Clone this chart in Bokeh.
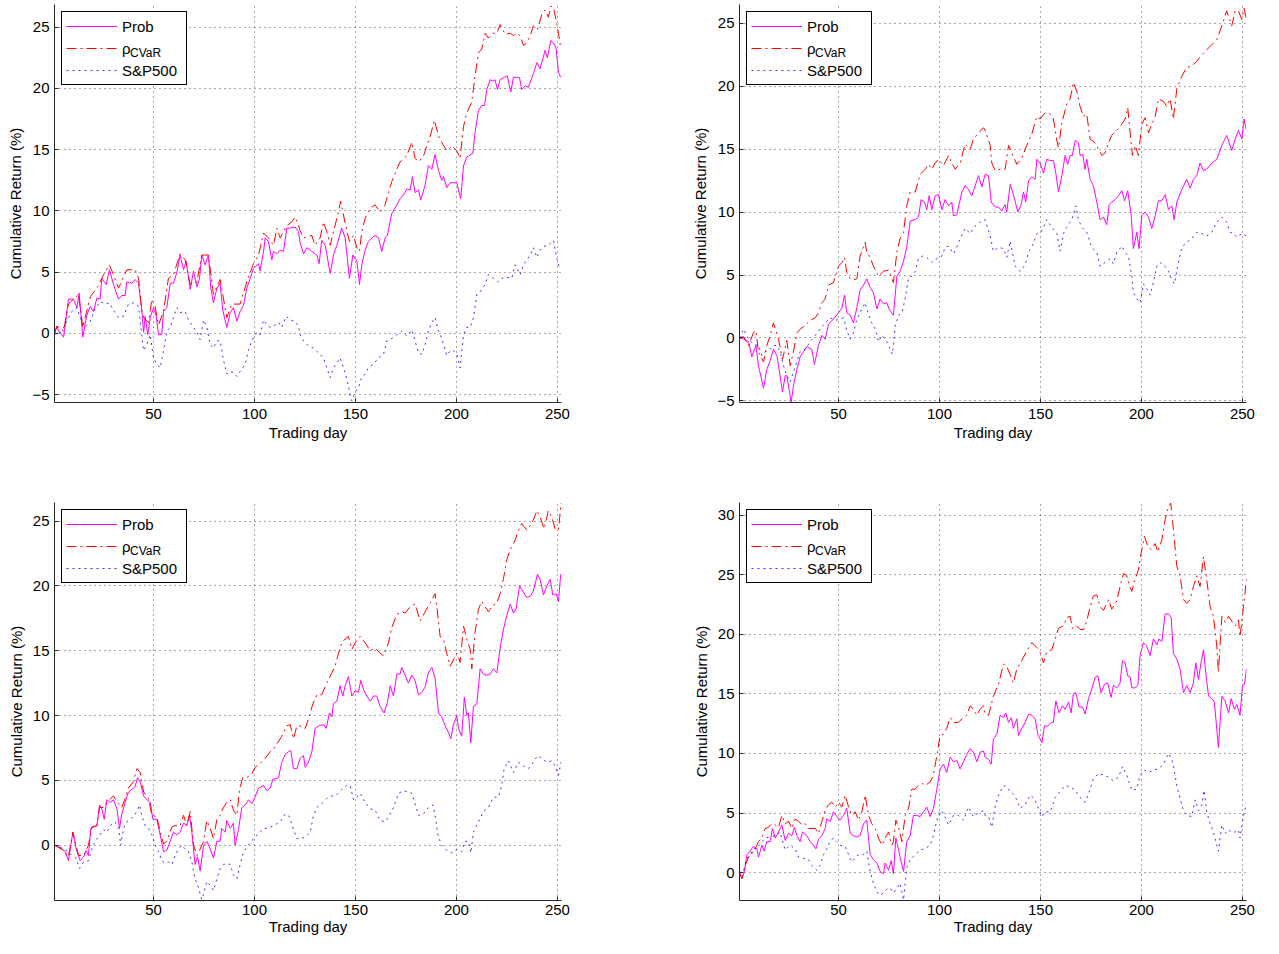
from bokeh.plotting import figure
from bokeh.models import Range1d, FixedTicker, Legend, LegendItem, Spacer
from bokeh.layouts import column, row
from bokeh.embed import file_html
from bokeh.resources import INLINE

FONT = "Liberation Sans"

X_TICKS = [50, 100, 150, 200, 250]

# ---------------- Panel 1 (top left) ----------------
P1_PROB = [(1,0),(2.2,0.6),(3,0.2),(4.6,-0.1),(5.5,-0.3),(7.9,2.8),(10.4,2.8),(12.1,2.1),(13.2,3.3),(15,-0.3),(17,1.5),(18.7,2.2),(20.3,1.8),(22,2.9),(23.6,2.8),(24.4,4.5),(26.6,4.0),(28.2,5.2),(30.2,4.0),(32.7,2.8),(34.3,3.1),(36,3.1),(36.8,4.2),(39.3,4.1),(40.9,4.4),(42.6,4.1),(44.2,1.9),(45.1,0.1),(45.9,1.4),(47.2,-0.1),(48.4,1.3),(50,2.1),(51.3,1.5),(52.5,-0.1),(54.1,-0.1),(55,1.8),(56.6,2.1),(58.3,4.1),(59.9,4.1),(61.6,5.0),(63.2,6.4),(64.9,5.2),(66.2,5.9),(68.2,3.6),(69.8,5.1),(71.5,3.8),(72.8,4.5),(73.9,6.4),(75.6,5.6),(77.2,6.4),(78.4,3.7),(79.7,2.5),(81.4,3.7),(83,4.1),(84.3,1.9),(86.3,0.5),(88,1.7),(89.6,2.1),(91.3,1.0),(92.9,1.8),(94.6,2.3),(96.2,3.7),(97.9,4.5),(99.5,5.3),(102,5.7),(102.8,5.1),(104.5,6.7),(105.3,7.8),(106.9,7.5),(108.6,6.0),(109.4,6.7),(111.1,6.5),(112.7,6.8),(114.4,6.7),(116,8.6),(117.7,8.6),(120.1,8.7),(121.8,8.3),
           (122.6,7.4),(124.3,6.5),(125.9,7.0),(128.4,6.7),(130.9,6.4),(132,5.7),(133.3,7.6),(135,7.2),(137.5,4.9),(139.1,6.4),(140.8,7.2),(143.2,8.6),(144.9,7.8),(147,4.5),(148.7,6.4),(150.7,5.9),(152,4.0),(153.1,5.6),(154.8,6.8),(156.4,7.5),(158.1,7.8),(159.7,8.0),(161.4,7.8),(163,6.7),(164.7,7.8),(165.8,8.0),(168,9.8),(170.5,10.5),(172.1,11.0),(173.8,11.3),(175.4,11.8),(177.1,11.7),(178.2,12.8),(179.5,11.5),(181.2,11.7),(182.3,10.9),(184.5,12.1),(186.1,13.7),(187.8,13.4),(189.4,14.6),(191.1,13.3),(192.7,12.5),(193.6,12.8),(195.2,11.9),(196.9,12.3),(198.5,12.3),(200.2,12.3),(201,11.7),(202.1,11.0),(203.5,13.7),(205.1,14.4),(208.1,14.7),(209.2,16.4),(210.9,18.2),(212.5,18.6),(213.9,18.6),(215,19.9),(216.7,20.7),(218,20.6),(219.1,20.7),(220.3,19.9),(221.6,20.7),(223.6,20.9),(225.2,21.0),(226.9,19.7),(228.2,20.9),(229.9,20.9),(231.2,20.9),(232.3,19.9),(234,20.2),(235.6,20.1),(238.1,21.2),(239.8,22.1),(241.4,21.6),(243.9,23.1),(245,22.5),(246.7,23.9),(248,23.7),(249.3,23.3),(250.5,21.3),(251.6,20.9)]
P1_CVAR = [(1,0),(2.2,0.6),(5.5,0.2),(7.9,2.4),(10.4,2.8),(12.9,3.2),(15,0.5),(18.7,3.0),(22,3.7),(25.3,4.8),(28.2,5.6),(30.2,4.8),(32.7,3.7),(36.8,5.2),(40.9,5.2),(42.6,4.5),(44.2,1.9),(45.1,1.3),(47.5,0.9),(49.2,2.8),(50.8,2.2),(52.5,0.7),(55,1.8),(57.4,4.5),(59.9,4.8),(63.2,6.5),(65.7,6.0),(68.2,4.0),(71.5,4.2),(73.9,6.4),(77.2,6.4),(79.7,3.2),(83,4.4),(86.3,1.3),(88.8,2.4),(92.9,2.4),(96.2,4.2),(99.5,5.7),(102,6.4),(104.5,8.2),(106.9,7.8),(109.4,7.2),(111.1,8.6),(112.7,7.8),(116,8.8),(118.5,9.1),(120.1,9.5),(121.8,8.8),
           (122.6,8.4),(124.3,7.8),(125.9,7.9),(128.4,8.0),(130,7.2),(132.5,7.8),(134.2,9.1),(135.8,8.3),(137.5,7.2),(139.1,8.3),(140.8,9.4),(142.7,10.8),(144.9,9.0),(147,7.5),(149,8.0),(150.7,7.0),(152,6.7),(153.1,8.3),(154.8,9.4),(157.3,10.2),(159.7,10.5),(162.2,9.9),(164.7,10.5),(166.3,11.5),(168,12.4),(170.5,13.4),(172.1,14.0),(175.4,14.5),(177.9,15.6),(179.5,14.3),(181.2,14.0),(183.7,14.5),(185.3,15.3),(187,16.1),(189.1,17.4),(191.1,16.1),(192.7,15.6),(195.2,14.9),(197.7,15.3),(200.2,14.9),(201.8,14.3),(203.5,16.9),(205.1,18.0),(207.6,18.9),(209.2,21.0),(210.9,22.9),(212.5,23.2),(214.2,24.5),(215.8,24.1),(218,24.5),(220,24.5),(221.6,25.2),(224.1,24.4),(226.6,24.5),(228.2,24.3),(229.9,24.5),(231.5,24.3),(233.2,23.5),(234.8,23.7),(236.5,24.3),(238.1,25.1),(240.1,24.8),(242.2,26.0),(243.9,26.4),(245.5,25.8),(246.7,26.7),(248,26.6),(249.3,25.6),(250.5,24.5),(251.6,23.3)]
P1_SP = [(1,0),(3,-0.1),(5.5,0.5),(7.1,1.0),(9.6,1.8),(12.1,2.1),(13.7,1.3),(16.2,0.5),(18.7,1.0),(21.1,2.0),(23.6,2.6),(26.1,2.4),(28.2,2.5),(30.2,1.9),(32.7,1.3),(35.2,1.4),(37.6,2.4),(40.1,2.5),(42.6,2.2),(44.2,-0.1),(45.1,-1.4),(46.7,-0.9),(48.4,-0.1),(50,-2.0),(51.7,-2.5),(53.3,-2.8),(55,-1.4),(56.6,0.2),(58.3,0.5),(59.9,1.3),(61.6,2.1),(63.2,1.7),(65.7,1.8),(67.3,1.1),(69.8,0.5),(71.5,0.1),(73.1,-0.5),(74.8,1.1),(76.4,0.5),(78.1,-0.9),(79.7,-1.2),(81.4,-0.6),(83,-0.6),(84.7,-2.2),(86.3,-3.3),(88,-3.1),(89.6,-3.2),(91.3,-3.5),(92.9,-3.1),(95.4,-2.5),(97,-1.4),(98.7,-0.6),(101.2,0.1),(102.8,-0.1),(104.5,1.1),(106.1,0.7),(107.8,0.5),(109.4,0.6),(111.9,0.9),(113.5,0.5),(115.7,1.4),(117.7,1.1),(120.1,1.0),(121.8,0.6),
         (122.6,-0.1),(124.3,-0.6),(126.7,-1.0),(129.2,-1.2),(132.5,-1.7),(134.2,-2.0),(135.8,-2.8),(137.5,-3.6),(139.1,-2.8),(140.8,-2.4),(142.4,-2.0),(144.1,-2.8),(145.7,-3.7),(146.5,-4.3),(147.4,-5.1),(148.2,-5.5),(149.8,-4.8),(151.5,-4.4),(153.1,-3.6),(154.8,-3.3),(156.4,-2.8),(158.9,-2.5),(161.4,-2.0),(163.9,-1.7),(165.5,-0.6),(168,-0.4),(170.5,-0.1),(172.9,0.2),(175.4,-0.2),(177.9,0.3),(179.5,-0.6),(181.2,-1.6),(182.8,-1.7),(184.5,-0.9),(186.1,0.2),(187.8,0.9),(189.4,1.3),(191.1,0.2),(192.7,-0.4),(195.2,-1.8),(196.9,-1.4),(198.5,-1.4),(200.2,-1.7),(201.8,-2.8),(203.5,-0.1),(205.1,0.5),(206.8,0.5),(208.4,1.3),(210.1,3.2),(211.7,3.4),(214.2,4.0),(215.8,4.8),(218.3,4.5),(220.8,4.2),(222.4,4.5),(224.9,4.6),(227.4,4.5),(229,5.6),(231.5,4.8),(233.2,5.6),(236.5,6.4),(238.1,7.0),(239.8,6.2),(241.4,6.8),(243.1,7.1),(245.5,7.2),(248,7.6),(249.7,6.1),(251,5.3)]

# ---------------- Panel 2 (top right) ----------------
P2_PROB = [(1,0),(3,-0.1),(5.5,-0.3),(7.1,-1.5),(9.1,-0.6),(10.4,-2.2),(12.9,-4.0),(14.5,-2.5),(16.2,-1.8),(17.8,-0.9),(19.5,-1.4),(20.3,-2.2),(22.3,-4.3),(23.6,-3.0),(24.4,-3.0),(26.6,-5.1),(27.7,-3.8),(29.4,-2.5),(31,-1.5),(32.7,-1.1),(34.3,-0.7),(36.8,-0.9),(38.1,-2.1),(40.1,-0.6),(41.8,0.2),(43.4,-0.1),(45.1,1.1),(47.5,1.5),(50,2.0),(51.7,2.4),(53,3.4),(54.1,2.0),(55.8,1.8),(57.4,1.2),(59.1,2.4),(60.7,3.8),(62.4,4.2),(64,4.7),(65.7,4.0),(67.3,3.6),(69,2.3),(70.6,3.1),(72.3,2.7),(73.9,2.8),(75.1,2.3),(77.2,1.8),(78.9,4.9),(80.5,5.3),(82.2,6.1),(83.8,7.2),(85.5,9.3),(88,9.4),(89.6,9.6),(90.9,11.0),(92.6,10.8),(93.7,10.2),(94.9,11.3),(96.2,10.2),(97.9,11.3),(99.5,11.4),(101.2,10.2),(102.8,11.0),(104.5,10.5),(106.1,10.8),(106.9,9.7),(108.6,9.8),(109.7,10.6),(111.1,11.6),(112.7,12.1),(114.4,11.8),(116,11.3),(117.7,12.1),(119.3,12.9),(121,12.0),(122.6,13.0),
           (124.3,12.9),(125.6,10.8),(127.6,10.4),(129.2,10.4),(130.9,10.1),(132.5,10.6),(133.3,10.0),(135,12.2),(136.6,11.4),(138.8,10.0),(140.4,10.6),(141.6,11.6),(142.7,10.8),(144.1,12.5),(145.7,12.8),(147.4,12.6),(148.2,14.2),(149.8,13.9),(151.5,13.1),(153.1,14.2),(154.8,14.1),(156.4,14.1),(157.6,13.1),(158.9,11.6),(160.6,12.9),(162.2,14.5),(163.5,13.8),(164.7,14.5),(165.8,14.5),(167.2,15.7),(168.8,15.5),(169.6,14.5),(170.9,14.6),(172.1,13.4),(172.9,14.2),(174.6,12.6),(176.2,12.1),(177.9,10.8),(179.5,9.4),(181.2,9.6),(182.8,9.0),(184,10.6),(185.3,10.8),(187,11.0),(188.6,11.3),(190.3,11.7),(191.6,10.9),(193.2,11.7),(194.9,9.8),(196,7.1),(197.7,8.4),(198.8,7.1),(200.2,9.8),(201.8,10.0),(203.5,9.6),(205.1,8.7),(206.8,9.7),(208.4,10.9),(210.1,10.9),(211.7,11.4),(213.4,10.2),(215,10.5),(216.2,9.4),(217.5,10.8),(220,11.8),(222.4,12.6),(224.1,11.9),(225.7,12.6),(227.4,12.9),(229,13.9),(230.7,13.3),(232.3,13.4),(234.8,13.9),(237.3,14.2),(239.8,15.3),(242.2,16.1),(244.7,14.9),(246.4,15.8),(248,16.5),(249.7,15.8),(250.8,17.4),(251.8,16.6)]
P2_CVAR = [(1,0),(3,0.1),(5.5,-0.6),(7.9,0.4),(9.1,0.6),(10.4,-1.1),(12.9,-1.9),(14.5,-0.6),(16.2,0.2),(17.8,1.2),(20.3,-0.1),(22.3,-1.7),(24.4,-0.2),(26.1,-2.2),(27.7,-1.1),(29.4,0.4),(31,0.7),(33.5,1.0),(36,1.4),(38.5,1.6),(40.1,2.0),(41.8,2.8),(43.4,3.1),(45.1,4.2),(47.5,4.4),(50,5.7),(51.7,6.0),(53,6.4),(54.1,5.2),(55.8,4.7),(57.4,4.6),(59.1,4.7),(60.7,6.5),(63.2,7.6),(64,6.8),(65.7,6.4),(67.3,5.7),(69.8,4.9),(72.3,5.3),(74.8,5.4),(77.2,4.4),(78.9,6.8),(80.5,7.9),(82.2,8.4),(83.8,10.5),(85.5,11.6),(88,11.6),(90.4,13.0),(92.9,13.4),(94.6,13.8),(96.2,13.4),(97.9,13.9),(99.5,14.2),(102,13.7),(104.5,14.5),(106.1,13.9),(107.8,13.4),(110.2,13.9),(112.7,15.4),(115.2,15.0),(116.8,15.8),(119.3,16.3),(121.8,16.7),
           (122.6,16.5),(125.1,15.3),(125.9,13.9),(127.6,13.3),(130,13.4),(132.5,13.4),(134.2,15.3),(135.8,14.7),(138.3,13.8),(140.8,14.3),(143.2,15.3),(145.7,16.2),(148.2,17.6),(149.8,17.4),(152.3,17.9),(154.8,17.8),(156.4,17.4),(158.1,15.7),(158.9,15.1),(160.6,17.1),(163,18.6),(164.7,19.0),(166.3,20.3),(168,19.6),(169.6,18.4),(171.3,17.6),(172.9,17.8),(174.6,15.8),(177.1,15.5),(178.7,15.0),(180.4,14.5),(182,14.7),(183.7,15.5),(185.3,16.1),(187.8,16.5),(190.3,17.0),(191.9,17.4),(193.2,18.3),(194.4,16.3),(195.5,14.5),(196.9,15.3),(198.5,14.5),(200.2,17.0),(201.8,17.5),(203.5,16.3),(205.1,17.0),(206.8,17.6),(208.4,19.0),(210.9,18.8),(212.5,18.4),(214.2,19.0),(215.8,17.4),(217.5,19.8),(220,20.8),(222.4,21.5),(224.9,21.6),(227.4,22.0),(229.9,22.5),(232.3,22.9),(234.8,23.3),(237.3,23.7),(239.8,24.8),(242.2,26.0),(244.7,24.8),(246.4,26.0),(248,26.0),(249.7,25.3),(250.8,26.2),(251.8,25.4)]
P2_SP = [(1,0),(3,0.7),(5.5,-0.1),(7.9,-0.5),(10.4,-0.6),(12.1,-1.4),(13.7,-1.1),(16.2,-0.9),(17.8,-0.6),(19.5,-0.6),(21.1,-1.1),(22.8,-2.2),(24.4,-3.0),(26.1,-3.5),(27.7,-2.7),(29.4,-1.9),(31,-1.1),(33.5,-0.9),(36,-0.3),(38.5,0.2),(40.9,0.7),(43.4,1.2),(45.9,1.6),(48.4,1.4),(50.8,1.5),(52.5,1.6),(54.1,0.6),(55.8,-0.1),(57.4,0.4),(59.1,1.5),(60.7,2.0),(63.2,2.8),(64.9,1.8),(66.5,1.2),(68.2,0.7),(69.8,-0.3),(71.5,0.2),(73.9,-0.3),(75.6,-0.9),(76.7,-1.3),(78.1,1.0),(79.7,1.8),(81.4,2.0),(83,3.1),(84.7,4.8),(86.3,4.9),(88,5.3),(89.6,6.3),(91.6,6.5),(93.7,6.4),(96.2,6.0),(98.7,6.3),(101.2,6.5),(102.8,7.2),(104.5,7.3),(106.9,6.7),(108.6,7.2),(110.2,7.9),(112.7,8.7),(115.2,8.3),(117.7,8.9),(120.1,9.2),(122.6,9.4),
         (125.1,8.1),(126.7,6.9),(129.2,7.2),(131.7,7.1),(133.3,6.4),(135,7.7),(137.5,5.7),(139.9,5.3),(142.4,5.8),(144.1,6.8),(146.5,7.5),(148.2,8.3),(150.7,8.5),(153.1,9.4),(155.6,8.8),(158.1,8.3),(159.7,6.9),(161.4,8.3),(163,8.8),(165.5,9.4),(167.5,10.5),(168.8,9.4),(170.5,8.8),(172.9,8.4),(175.4,7.2),(177.9,6.8),(179.5,5.7),(182,6.0),(184.5,6.3),(186.1,5.9),(187.8,6.8),(190.3,7.3),(191.9,6.8),(193.6,6.5),(195.2,4.9),(196,3.6),(197.7,3.1),(199.3,2.8),(201,4.3),(202.6,3.9),(204.3,3.4),(205.9,4.4),(207.6,5.7),(209.2,6.0),(211.7,5.7),(213.4,5.3),(215,4.6),(216.3,4.3),(218.3,6.0),(220,7.2),(222.4,7.6),(224.9,7.9),(227.4,8.4),(229.9,8.3),(232.3,8.1),(234.8,8.4),(237.3,9.2),(239.8,9.6),(242.2,9.2),(243.9,8.4),(245.5,8.3),(247.2,8.0),(249.7,8.3),(251.8,8.1)]

# ---------------- Panel 3 (bottom left) ----------------
P3_PROB = [(1,0),(3,-0.1),(4.6,-0.3),(6.3,-0.5),(7.9,-1.2),(9.1,0),(10.1,1.0),(11.7,-0.3),(13.7,-1.2),(15.4,-0.9),(16.7,-0.4),(17.8,-0.8),(19,1.3),(20.3,1.4),(22,1.5),(23.3,3.1),(24.4,2.8),(25.6,2.0),(26.9,3.5),(28.6,3.3),(30.2,3.5),(31.9,2.8),(33.2,1.3),(34.3,2.4),(36,3.3),(37.6,4.1),(39.3,4.3),(40.9,4.5),(42.1,5.2),(43.4,4.9),(45.1,3.8),(46.7,3.5),(48.4,3.3),(49.7,2.0),(51.7,2.0),(53.3,0.8),(55,-0.5),(56.6,-0.4),(58.3,0.3),(59.9,1.0),(61.6,0.8),(63.2,1.0),(64.9,1.7),(66.5,1.5),(67.8,2.3),(69,1.0),(70.6,-1.5),(71.8,-0.9),(73.1,-2.0),(74.8,0),(76.4,0.3),(78.1,-0.3),(79.7,-1.0),(81.4,0.3),(83,0.3),(83.8,1.3),(85.5,1.0),(86.3,1.9),(88,1.3),(89.6,1.7),(90.4,0),(92.1,1.2),(93.7,2.9),(95.4,3.1),(97,3.5),(98.7,3.2),(100.3,3.7),(102,4.4),(104.5,4.6),(106.1,4.2),(107.8,4.4),(109.1,5.1),(110.2,5.1),(111.9,5.2),(113.5,6.4),(115.2,7.0),(116.8,7.2),(118,7.3),(119.3,5.9),(121,5.9),
           (122.6,6.7),(124.3,6.9),(125.1,6.0),(126.7,6.4),(128.4,7.2),(130,9.0),(131.7,9.2),(134.2,9.3),(135.5,9.0),(137.1,10.2),(138.3,9.9),(139.1,10.9),(140.8,11.1),(142.4,12.3),(143.7,11.5),(144.9,12.3),(146.5,13.0),(148.2,11.5),(149.8,11.9),(151.5,11.8),(152.6,12.7),(154,12.0),(155.6,11.5),(157.3,11.1),(158.9,11.5),(160.6,11.5),(162.2,10.7),(164.2,10.2),(165.8,11.0),(167.2,12.3),(168.8,11.5),(170.5,13.2),(172.1,13.2),(172.9,13.7),(174.6,13.1),(176.2,12.5),(177.9,13.1),(179.5,12.7),(181.2,11.6),(182.8,11.8),(184.5,12.2),(186.1,13.3),(187.8,13.7),(189.4,12.9),(191.1,10.2),(192.7,9.9),(194.4,9.2),(196,8.7),(197.2,8.2),(198.5,9.3),(200.2,10.0),(201,9.0),(202.6,8.4),(203.9,11.4),(205.1,10.0),(205.9,10.2),(207.1,7.9),(208.4,10.7),(210.1,10.9),(211.7,13.6),(213.4,13.2),(215,13.1),(216.7,13.2),(218.3,13.6),(220,13.3),(221.6,15.2),(223.2,16.6),(224.9,17.7),(226.6,18.6),(228.2,17.9),(229.5,18.2),(231.2,20.0),(232.8,19.6),(234.8,19.1),(236.5,19.2),(238.1,19.6),(240.1,20.9),(241.4,20.5),(243.1,19.3),(244.7,20.0),(246.4,20.5),(247.7,19.3),(249.3,19.4),(250.5,18.8),(251.6,20.9)]
P3_CVAR = [(1,0),(5.5,-0.4),(7.9,-0.9),(10.1,1.0),(12.9,-0.8),(15.4,-0.8),(17.8,0),(19.5,1.4),(22,1.5),(23.3,2.9),(25.3,2.9),(26.9,3.3),(30.2,3.8),(32.7,3.2),(34.3,2.9),(36,3.6),(37.6,4.4),(40.1,4.9),(41.8,5.9),(43.4,5.6),(45.1,4.1),(47.5,3.6),(49.2,2.3),(51.7,2.2),(53.3,1.0),(55,0.1),(56.6,0.3),(59.1,1.4),(60.7,1.5),(63.2,1.5),(64.9,2.3),(66.5,1.5),(68.2,2.6),(69.8,0),(71.5,-0.8),(73.1,-0.3),(74.8,0.3),(76.4,1.9),(78.1,1.3),(79.7,0.5),(81.4,2.0),(83,2.3),(84.3,2.8),(86.3,3.3),(88,3.5),(89.6,2.7),(91.3,2.3),(92.6,4.3),(94.2,5.2),(96.2,5.2),(98.7,5.5),(100.3,6.0),(102.8,6.3),(105.3,6.7),(107.8,7.2),(109.4,7.4),(111.1,7.8),(113.5,8.4),(116,9.2),(117.7,9.3),(119.3,8.2),(121,9.2),
           (122.6,9.2),(125.1,9.0),(126.7,9.7),(128.9,10.9),(130.9,11.6),(133.3,11.6),(135.8,12.5),(138.3,13.3),(139.9,13.8),(141.6,14.8),(143.2,15.6),(144.9,15.9),(146.5,16.1),(148.2,15.1),(149.8,15.6),(152.3,16.1),(154.8,15.6),(157.3,15.0),(159.7,15.2),(162.2,14.8),(163.9,14.6),(166.3,15.6),(168,16.8),(170.5,17.8),(172.9,18.0),(174.6,17.9),(177.1,18.4),(179.5,18.6),(182,17.3),(184.5,18.0),(187,18.7),(189.4,19.4),(190.3,18.4),(191.9,16.1),(193.6,15.9),(195.2,14.8),(196.9,13.8),(198.5,14.3),(200.2,14.8),(201.8,14.1),(203.5,16.9),(205.1,15.9),(206.8,15.1),(207.6,13.6),(209.2,16.4),(210.9,18.2),(212.5,18.8),(214.2,18.4),(215.8,18.0),(217.5,18.4),(220,18.7),(221.6,19.4),(223.2,20.5),(224.9,22.0),(226.6,22.8),(229,23.5),(230.7,24.3),(232.3,24.8),(234.8,24.3),(237.3,24.8),(239.8,25.8),(241.4,25.3),(243.4,24.4),(245.5,25.8),(247.2,25.3),(248.8,24.4),(250.5,24.3),(251.8,26.4)]
P3_SP = [(1,0),(3,-0.1),(5.5,-0.3),(7.9,-0.5),(9.6,-0.8),(11.7,-1.0),(13.4,-1.8),(15.4,-1.3),(17.8,-1.2),(19.5,-0.3),(21.1,0.3),(23.6,0.8),(25.3,1.2),(26.9,1.0),(28.6,1.5),(31,1.8),(32.7,1.3),(33.8,0),(35.2,1.3),(36.8,1.8),(38.5,2.0),(40.1,2.2),(41.8,2.6),(43.1,3.1),(44.2,2.3),(45.9,1.5),(47.5,1.3),(49.2,0.8),(50.8,0),(52.5,-0.5),(54.1,-1.2),(55.8,-1.4),(57.4,-1.3),(59.1,-1.5),(60.7,-0.8),(62.4,-0.3),(64,0),(65.7,-0.3),(67.3,-0.5),(69,-1.3),(70.6,-2.6),(72.3,-3.3),(73.9,-4.2),(75.1,-3.6),(76.4,-2.8),(78.1,-3.1),(79.7,-3.5),(81.4,-2.6),(83,-1.8),(84.7,-1.5),(86.3,-1.4),(88,-1.5),(89.6,-2.3),(91.3,-2.6),(92.9,-1.5),(94.6,-0.5),(97,0),(99.5,0.5),(102,0.9),(104.5,1.3),(106.9,1.3),(109.4,1.5),(112.7,1.8),(115.2,2.4),(117.3,2.2),(119.3,1.2),(121,0.5),
         (122.6,0.5),(125.1,0.6),(127.6,1.0),(129.2,2.3),(130.9,2.9),(133.3,3.2),(135.8,3.6),(138.3,3.8),(140.8,3.9),(143.2,4.3),(145.7,4.6),(147.4,4.6),(149,3.5),(150.7,3.7),(152.3,4.0),(154.8,3.3),(157.3,2.8),(159.7,2.7),(162.2,1.9),(164.7,1.8),(166.8,2.3),(168.8,2.9),(171.3,4.0),(173.8,4.2),(176.2,4.1),(177.9,4.0),(179.5,3.2),(181.2,2.3),(183.7,2.4),(186.1,2.9),(188.3,3.1),(189.4,2.3),(191.1,0.6),(192.7,0),(195.2,-0.4),(197.7,-0.6),(200.2,-0.3),(202.6,-0.5),(204.3,0.3),(205.9,0.3),(207.1,-0.6),(208.4,1.0),(210.9,1.8),(213.4,2.6),(215.8,2.9),(218.3,3.7),(220.8,3.7),(222.4,4.6),(223.6,5.9),(225.7,6.5),(228.2,5.6),(230.7,6.4),(233.2,6.1),(235.6,5.9),(238.1,6.4),(240.1,6.9),(242.2,6.7),(244.7,6.4),(247.2,6.5),(248.8,6.1),(250.5,5.4),(251.8,6.4)]

# ---------------- Panel 4 (bottom right) ----------------
P4_PROB = [(1,0),(2.2,-0.5),(3.5,0.1),(4.6,1.5),(6.3,1.8),(7.9,2.2),(9.6,2.0),(10.4,1.3),(12.1,2.3),(13.2,1.8),(14.5,2.6),(16.2,2.6),(17.3,3.7),(18.7,2.9),(20.3,3.4),(22,4.0),(23.6,2.7),(25.3,3.3),(26.9,3.1),(28.2,3.8),(29.4,3.1),(31,2.6),(32.2,3.4),(34.3,3.1),(36,2.6),(37.6,2.3),(38.8,2.0),(40.1,2.8),(41.8,3.1),(43.4,3.7),(44.2,4.5),(45.9,4.3),(47.5,5.1),(49.2,4.7),(50.8,4.4),(52.5,4.8),(54.1,5.4),(55.8,3.3),(57.4,3.1),(59.1,3.0),(60.7,3.1),(62.4,4.1),(64,4.4),(65.7,1.5),(67.3,1.1),(69,0.8),(70.6,0.1),(72.3,-0.1),(73.1,0.8),(74.8,0.2),(76.1,1.0),(77.2,-0.1),(78.4,2.9),(79.7,2.0),(80.5,1.3),(82.2,0.1),(83.8,2.6),(85.5,3.1),(87.1,4.8),(88.8,4.8),(90.4,4.7),(92.1,5.1),(93.7,5.5),(95.4,4.7),(97,5.4),(98.7,7.0),(100.3,8.7),(102,9.1),(103.6,8.4),(105.3,9.7),(106.9,9.3),(108.6,9.4),(110.2,8.7),(111.9,9.3),(113.5,9.9),(115.2,10.4),(116.8,10.1),(118.5,9.3),(120.1,10.1),(121.8,10.2),
           (122.6,9.7),(124.3,9.5),(125.6,9.1),(126.7,11.2),(128.4,11.6),(130,13.2),(131.7,13.0),(132.8,13.4),(134.2,12.6),(135.5,13.0),(136.6,12.1),(138.3,12.9),(139.1,11.5),(140.8,12.1),(142.4,12.6),(144.1,13.3),(145.7,13.2),(147.4,12.9),(148.7,11.6),(150.7,10.9),(152,12.3),(153.6,12.3),(155.3,12.6),(156.4,12.6),(157.6,14.4),(159.2,13.4),(160.9,14.0),(162.2,13.7),(163.9,14.3),(165.2,13.4),(166.3,15.0),(167.5,15.1),(169.1,13.9),(170.8,13.9),(172.1,13.3),(173.8,14.6),(175.4,15.4),(177.1,16.4),(178.4,16.5),(180,15.1),(181.7,15.8),(183.3,15.9),(185,14.7),(186.1,15.7),(187.8,15.5),(189.4,15.9),(190.6,17.8),(191.9,17.6),(193.2,16.5),(194.4,16.4),(195.2,15.5),(196.9,15.5),(198.2,15.7),(199.3,18.2),(201,19.3),(202.6,19.0),(204.3,18.2),(205.9,19.6),(207.6,19.1),(208.7,19.6),(210.1,19.4),(211.7,21.7),(213.4,21.7),(214.7,21.4),(215.8,18.4),(217.5,17.9),(219.1,17.1),(220.8,15.1),(222.4,15.7),(224.1,15.1),(225.7,15.9),(226.9,17.6),(228.2,16.2),(229.5,17.6),(230.7,18.7),(231.8,16.8),(233.2,14.8),(234.8,14.6),(236.1,14.3),(238.1,10.5),(239.8,14.8),(241.4,14.4),(243.1,13.4),(244.4,14.6),(246,13.7),(247.2,14.1),(248.8,13.2),(250,15.7),(251,15.8),(252,17.1)]
P4_CVAR = [(1,0),(2.2,-0.5),(3.8,0.6),(5.5,1.3),(7.1,1.6),(8.8,2.0),(10.4,2.6),(12.1,2.9),(13.7,3.7),(15.4,3.8),(17,4.1),(18.7,4.0),(20.3,3.8),(22,4.8),(23.6,4.1),(25.3,4.3),(26.9,3.7),(28.6,4.5),(30.2,4.3),(31.9,4.0),(33.5,4.1),(35.2,3.7),(36.8,3.7),(38.5,3.7),(40.1,3.3),(41.8,4.3),(43.4,5.2),(45.1,5.7),(46.7,5.9),(48.4,5.5),(50,5.9),(51.7,5.5),(53.3,6.5),(55,5.5),(56.6,4.8),(58.3,5.1),(59.9,4.4),(61.6,5.1),(63.2,6.5),(64.9,4.8),(66.5,4.1),(68.2,3.7),(69.8,2.9),(71.5,2.3),(73.1,2.9),(74.8,3.4),(76.4,2.3),(77.2,2.6),(78.4,4.4),(79.7,3.8),(81.4,2.6),(83,4.8),(84.7,5.4),(86.3,7.0),(88,7.0),(89.6,7.3),(91.3,7.5),(92.9,7.3),(95.4,7.6),(97,8.2),(98.7,9.8),(100.3,11.5),(102,11.6),(103.6,12.1),(105.3,13.0),(106.9,12.6),(109.4,12.6),(111.1,12.9),(113.5,13.2),(115.2,14.0),(116.8,13.7),(118.5,13.2),(120.1,13.7),(121.8,14.0),
           (122.6,13.3),(124.3,13.2),(126.7,14.8),(129.2,15.8),(131.7,17.5),(133.3,17.3),(135,16.6),(136.6,15.9),(138.3,17.1),(140.8,17.8),(143.2,18.6),(145.7,19.3),(148.2,18.9),(149.8,18.5),(151.5,17.6),(153.1,18.5),(155.6,18.7),(157.3,19.6),(158.9,20.5),(161.4,20.7),(163,21.4),(164.7,21.5),(165.8,20.5),(168,20.7),(169.6,20.4),(171.3,20.4),(172.9,21.1),(174.6,22.3),(176.2,23.2),(177.9,23.3),(179.5,22.3),(181.2,22.0),(183.7,22.9),(185.3,22.1),(187.8,22.8),(189.4,24.0),(191.1,25.1),(192.7,24.9),(194.4,23.9),(195.2,23.6),(196.9,24.6),(198.5,25.4),(199.8,26.8),(201.5,28.2),(203.1,27.4),(204.8,27.1),(206.8,27.6),(208.1,26.9),(210.1,27.9),(211.7,29.6),(213.4,30.7),(214.5,31.0),(215.8,28.8),(217.5,25.7),(219.1,24.9),(220.8,22.9),(222.4,22.6),(224.1,22.9),(225.7,24.0),(227.4,24.9),(229,24.0),(230.7,26.5),(232.3,24.6),(234,22.3),(235.6,21.5),(237.3,19.0),(238.1,16.8),(239.8,21.5),(241.4,21.0),(243.1,21.5),(244.7,21.1),(246.4,20.7),(248,21.2),(248.8,19.8),(250.5,22.3),(252,24.6)]
P4_SP = [(1,0),(3,0.1),(4.6,1.2),(6.3,1.5),(7.9,2.0),(9.6,2.0),(11.2,2.4),(13.7,2.9),(16.2,3.0),(18.7,3.1),(21.1,3.4),(23.6,1.9),(26.1,2.3),(28.6,2.0),(30.2,1.3),(32.7,1.2),(35.2,1.1),(36.8,0.6),(39.3,0.2),(40.9,0.6),(42.6,1.5),(44.2,2.0),(45.9,2.6),(47.5,2.9),(49.2,2.6),(50.8,2.3),(53.3,2.2),(55,1.5),(56.6,0.9),(58.3,1.2),(59.9,1.5),(62.4,1.5),(64,1.8),(65.7,0.1),(67.3,-0.9),(69,-1.6),(70.6,-1.9),(72.3,-1.7),(73.9,-1.4),(75.6,-1.3),(77.2,-1.7),(78.9,-1.3),(80.5,-0.9),(82.2,-2.3),(83.8,0.4),(85.5,1.1),(88,1.5),(90.4,1.9),(92.9,2.0),(95.4,2.3),(97,3.1),(98.7,4.4),(100.3,5.2),(102,5.0),(104.5,4.0),(106.9,4.8),(109.4,4.8),(111.9,4.4),(114.4,5.5),(116.8,4.7),(119.3,5.0),(121.8,5.2),
         (122.6,4.8),(124.3,4.7),(125.9,3.8),(127.6,5.6),(129.2,6.5),(131.7,7.3),(133.3,7.2),(135,6.8),(136.6,6.6),(138.3,6.1),(139.9,5.4),(142.4,5.7),(144.9,6.5),(147,6.2),(149,5.4),(150.7,4.7),(152.3,5.1),(154.8,5.1),(157.3,6.3),(159.7,6.8),(162.2,7.3),(164.7,7.2),(167.2,6.9),(169.6,6.3),(172.1,5.9),(174.6,7.0),(176.2,7.9),(178.7,8.3),(181.2,8.2),(183.7,8.0),(186.1,7.7),(188.6,8.0),(190.6,8.9),(192.7,8.2),(195.2,6.9),(197.7,7.0),(199.3,8.2),(201.5,8.6),(203.5,8.4),(205.9,8.6),(208.4,8.7),(210.9,9.1),(213.4,10.0),(215,9.5),(215.8,9.0),(217.5,7.3),(219.1,6.2),(220.8,5.2),(222.4,4.8),(224.9,4.7),(226.6,6.1),(228.2,5.2),(229.9,5.7),(231,6.9),(232.3,5.1),(234,4.1),(235.6,3.4),(237.3,2.3),(238.1,1.8),(239.8,4.0),(241.4,3.3),(243.1,3.6),(244.7,3.4),(246.4,3.4),(248,3.6),(248.8,2.9),(250.5,4.8),(252,5.8)]

PANELS = [
    dict(prob=P1_PROB, cvar=P1_CVAR, sp=P1_SP, yr=(-5.63, 26.84), yt=[-5, 0, 5, 10, 15, 20, 25]),
    dict(prob=P2_PROB, cvar=P2_CVAR, sp=P2_SP, yr=(-5.13, 26.5), yt=[-5, 0, 5, 10, 15, 20, 25]),
    dict(prob=P3_PROB, cvar=P3_CVAR, sp=P3_SP, yr=(-4.27, 26.43), yt=[0, 5, 10, 15, 20, 25]),
    dict(prob=P4_PROB, cvar=P4_CVAR, sp=P4_SP, yr=(-2.34, 31.05), yt=[0, 5, 10, 15, 20, 25, 30]),
]

FRAME_W, FRAME_H = 507, 398


def split(pairs):
    return [d for d, _ in pairs], [v for _, v in pairs]


def make_panel(cfg, col, rowi):
    p = figure(
        frame_width=FRAME_W, frame_height=FRAME_H,
        x_range=Range1d(1, 252), y_range=Range1d(*cfg["yr"]),
        output_backend="svg", toolbar_location=None,
        min_border_left=54,
        min_border_right=124 if col == 0 else 15,
        min_border_top=0 if rowi == 0 else 52,
        min_border_bottom=48 if rowi == 0 else 36,
        background_fill_color="white", border_fill_color="white",
    )
    p.outline_line_color = None

    x, y = split(cfg["prob"])
    r1 = p.line(x, y, line_color="#FF00FF", line_width=1)
    x, y = split(cfg["cvar"])
    r2 = p.line(x, y, line_color="#FF0000", line_width=1, line_dash="10 4 2 4")
    x, y = split(cfg["sp"])
    r3 = p.line(x, y, line_color="#0000FF", line_width=1, line_dash="2 4", line_alpha=0.8)

    # axes
    p.xaxis.ticker = FixedTicker(ticks=X_TICKS)
    p.yaxis.ticker = FixedTicker(ticks=cfg["yt"])
    p.yaxis.major_label_overrides = {t: ("\u2212" + str(-t)) for t in cfg["yt"] if t < 0}
    p.xaxis.axis_label = "Trading day"
    p.yaxis.axis_label = "Cumulative Return (%)"
    for ax in (p.xaxis, p.yaxis):
        ax.axis_label_text_font = FONT
        ax.axis_label_text_font_size = "15px"
        ax.axis_label_text_font_style = "normal"
        ax.axis_label_text_color = "black"
        ax.major_label_text_font = FONT
        ax.major_label_text_font_size = "15px"
        ax.major_label_text_color = "black"
        ax.axis_line_color = "#262626"
        ax.axis_line_width = 1
        ax.major_tick_in = 4
        ax.major_tick_out = 0
        ax.major_tick_line_color = "#262626"
        ax.minor_tick_in = 0
        ax.minor_tick_out = 0
    p.xaxis.major_label_standoff = 6 if rowi == 0 else 4
    p.xaxis.axis_label_standoff = 2 if rowi == 0 else 0
    p.yaxis.major_label_standoff = 5
    p.yaxis.axis_label_standoff = 5

    for g in (p.xgrid, p.ygrid):
        g.grid_line_color = "#1a1a1a"
        g.grid_line_alpha = 0.75
        g.grid_line_dash = "1 4"
        g.grid_line_width = 1

    legend = Legend(
        items=[LegendItem(label="Prob", renderers=[r1]),
               LegendItem(label="\u03c1", renderers=[r2]),
               LegendItem(label="S&P500", renderers=[r3])],
        location="top_left", margin=7, padding=4, spacing=2,
        glyph_width=51, glyph_height=20, label_height=20, label_width=60,
        label_standoff=5,
        label_text_font=FONT, label_text_font_size="15px", label_text_color="black",
        border_line_color="black", border_line_width=1, border_line_alpha=1,
        background_fill_color="white", background_fill_alpha=1,
    )
    p.add_layout(legend)

    # subscript "CVaR" of the rho entry, as a second (frameless) legend line
    sub = Legend(
        items=[LegendItem(label="CVaR", renderers=[r2])],
        location=(76, FRAME_H - 56), margin=0, padding=0, spacing=0,
        glyph_width=0, glyph_height=12, label_height=12, label_width=0,
        label_standoff=0,
        label_text_font=FONT, label_text_font_size="12px", label_text_color="black",
        border_line_color=None, background_fill_alpha=0,
    )
    p.add_layout(sub)
    return p


plots = [make_panel(cfg, i % 2, i // 2) for i, cfg in enumerate(PANELS)]
layout = column(Spacer(height=4), row(plots[0], plots[1]), row(plots[2], plots[3]))

open("out.html", "w").write(file_html(layout, INLINE))
